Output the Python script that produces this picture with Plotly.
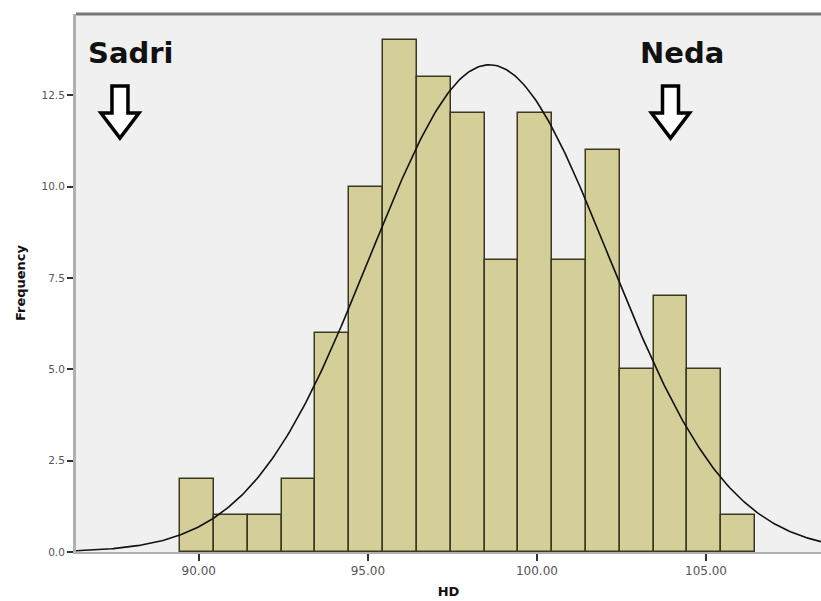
import numpy as np
import plotly.graph_objects as go

# Histogram data (bin width 1)
bin_starts = [89.45, 90.45, 91.45, 92.45, 93.45, 94.45, 95.45, 96.45, 97.45,
              98.45, 99.45, 100.45, 101.45, 102.45, 103.45, 104.45, 105.45]
counts = [2, 1, 1, 2, 6, 10, 14, 13, 12, 8, 12, 8, 11, 5, 7, 5, 1]
bin_width = 1.0

x_tickvals = [90, 95, 100, 105]
x_ticktext = ["90.00", "95.00", "100.00", "105.00"]
y_tickvals = [0, 2.5, 5, 7.5, 10, 12.5]
y_ticktext = ["0.0", "2.5", "5.0", "7.5", "10.0", "12.5"]

x_range = [86.37, 108.4]
y_range = [0, 14.72]

labels = ["Sadri", "Neda"]
label_x = [87.67, 103.95]

FONT = "DejaVu Sans, Liberation Sans, Arial"

# Fitted normal curve from the binned data
centers = np.array(bin_starts) + bin_width / 2
c = np.array(counts)
n = c.sum()
mean = (centers * c).sum() / n
sd = np.sqrt(((centers - mean) ** 2 * c).sum() / (n - 1))
xs = np.linspace(x_range[0], x_range[1], 400)
ys = n * bin_width / (sd * np.sqrt(2 * np.pi)) * np.exp(-0.5 * ((xs - mean) / sd) ** 2)

fig = go.Figure()
fig.add_trace(go.Bar(
    x=centers, y=counts, width=bin_width,
    marker=dict(color="#d4cf98", line=dict(color="#3a3820", width=1.5)),
    hoverinfo="x+y", showlegend=False,
))
fig.add_trace(go.Scatter(
    x=xs, y=ys, mode="lines",
    line=dict(color="#111111", width=1.6), showlegend=False, hoverinfo="skip",
))

# pixel-to-data scales for drawing hollow arrows
plot_w_px = 821 - 76
plot_h_px = 552 - 14
sx = (x_range[1] - x_range[0]) / plot_w_px
sy = (y_range[1] - y_range[0]) / plot_h_px

def Y(py):
    return (552 - py) * sy

def arrow_path(cx):
    pts = [(-8, 86), (8, 86), (8, 113), (19, 113), (0, 138), (-19, 113), (-8, 113)]
    s = ""
    for i, (dx, py) in enumerate(pts):
        s += ("M" if i == 0 else "L") + f"{cx + dx * sx},{Y(py)} "
    return s + "Z"

for lab, lx in zip(labels, label_x):
    fig.add_shape(type="path", path=arrow_path(lx), xref="x", yref="y",
                  line=dict(color="black", width=3.5), fillcolor="white")
    fig.add_annotation(x=lx + 11 * sx, y=Y(53), xref="x", yref="y",
                       text=f"<b>{lab}</b>", showarrow=False,
                       font=dict(family=FONT, size=29, color="#111111"))

fig.update_layout(
    width=821, height=601,
    margin=dict(l=76, r=0, t=14, b=49),
    paper_bgcolor="white", plot_bgcolor="#f0f0f0",
    bargap=0,
    xaxis=dict(
        range=x_range, tickvals=x_tickvals, ticktext=x_ticktext,
        showgrid=False, zeroline=False, showline=True, linecolor="#b0b0b0", linewidth=2,
        mirror=False, ticks="outside", ticklen=7, tickcolor="#333333", tickwidth=1.5,
        tickfont=dict(family=FONT, size=12, color="#555555"),
        title=dict(text="<b>HD</b>", standoff=9,
                   font=dict(family=FONT, size=13, color="#111111")),
    ),
    yaxis=dict(
        range=y_range, tickvals=y_tickvals, ticktext=y_ticktext,
        showgrid=False, zeroline=False, showline=True, linecolor="#b0b0b0", linewidth=3,
        ticks="outside", ticklen=6, tickcolor="#333333", tickwidth=1.5,
        tickfont=dict(family=FONT, size=10.5, color="#555555"),
        title=dict(text="<b>Frequency</b>", standoff=13,
                   font=dict(family=FONT, size=13, color="#111111")),
    ),
)
# top frame line
fig.add_shape(type="line", xref="paper", yref="paper", x0=0, x1=1, y0=1, y1=1,
              line=dict(color="#777777", width=3))

fig.write_html("out.html", config={"displayModeBar": False},
               post_script="document.body.style.margin='0';document.body.style.overflow='hidden';")
